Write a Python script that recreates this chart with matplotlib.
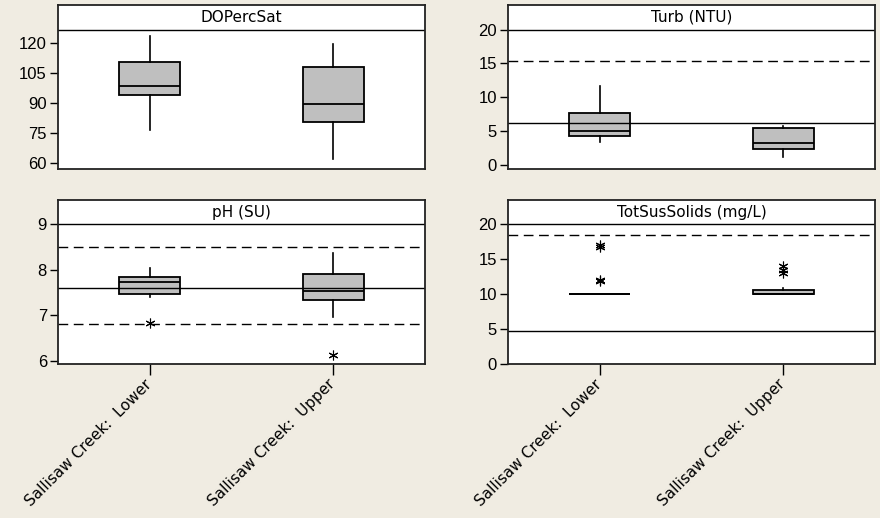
import matplotlib
matplotlib.use('Agg')
import matplotlib.pyplot as plt

# site names (x categories)
sites = ['Sallisaw Creek:  Lower', 'Sallisaw Creek:  Upper']

# panel titles
titles = ['DOPercSat', 'Turb (NTU)', 'pH (SU)', 'TotSusSolids (mg/L)']

# box stats per panel: [whislo, q1, med, q3, whishi] for Lower, Upper
do_stats = [[76.4, 93.8, 98.6, 110.3, 123.5], [61.7, 80.6, 89.6, 108.0, 119.3]]
turb_stats = [[3.45, 4.3, 5.03, 7.64, 11.6], [1.15, 2.37, 3.3, 5.5, 5.7]]
ph_stats = [[7.40, 7.47, 7.72, 7.84, 8.03], [6.97, 7.33, 7.53, 7.91, 8.36]]
tss_stats = [[10.0, 10.0, 10.0, 10.0, 10.0], [10.0, 10.0, 10.0, 10.6, 10.8]]

# outliers
do_fliers = [[], []]
turb_fliers = [[], []]
ph_fliers = [[6.82], [6.12]]
tss_fliers = [[17.0, 16.8, 12.0, 11.9], [14.0, 13.5, 13.0]]

# reference lines (solid / dashed)
do_solid, do_dashed = [], []
turb_solid, turb_dashed = [6.25], [15.4]
ph_solid, ph_dashed = [7.6], [8.5, 6.8]
tss_solid, tss_dashed = [4.65], [18.5]

ticks = [[60, 75, 90, 105, 120], [0, 5, 10, 15, 20], [6, 7, 8, 9], [0, 5, 10, 15, 20]]

stats_all = [do_stats, turb_stats, ph_stats, tss_stats]
fliers_all = [do_fliers, turb_fliers, ph_fliers, tss_fliers]
solid_all = [do_solid, turb_solid, ph_solid, tss_solid]
dashed_all = [do_dashed, turb_dashed, ph_dashed, tss_dashed]

# layout: ylim and where the title strip starts
ylims = [(56.8, 139.0), (-0.6, 23.65), (5.93, 9.53), (-0.05, 23.5)]
strips = [126.5, 20, 9, 20]

W, H = 880, 518
boxes_px = [(58, 5), (508, 5), (58, 200), (508, 200)]
aw, ah = 367, 164

bg = '#F0ECE2'
fig = plt.figure(figsize=(W / 100, H / 100), dpi=100, facecolor=bg)

for k in range(4):
	x0, y0 = boxes_px[k]
	ax = fig.add_axes([x0 / W, (H - y0 - ah) / H, aw / W, ah / H])
	ax.set_facecolor('white')

	bstats = []
	for i in range(2):
		s = stats_all[k][i]
		bstats.append({'whislo': s[0], 'q1': s[1], 'med': s[2], 'q3': s[3], 'whishi': s[4],
			'fliers': fliers_all[k][i]})

	ax.bxp(bstats, positions=[1, 2], widths=0.33, patch_artist=True, showcaps=False,
		boxprops=dict(facecolor='#BFBFBF', edgecolor='black', linewidth=1.3),
		medianprops=dict(color='black', linewidth=1.3),
		whiskerprops=dict(color='black', linewidth=1.2),
		flierprops=dict(marker=(6, 2, 0), markersize=7, markeredgecolor='black',
			markeredgewidth=0.8, linestyle='none'))

	for v in solid_all[k]:
		ax.axhline(v, color='black', linewidth=1.0)
	for v in dashed_all[k]:
		ax.axhline(v, color='black', linewidth=1.0, linestyle=(0, (7, 4)))

	ymin, ymax = ylims[k]
	ax.set_ylim(ymin, ymax)
	ax.set_xlim(0.5, 2.5)

	# title strip
	ax.axhline(strips[k], color='black', linewidth=1.0)
	f = (strips[k] - ymin) / (ymax - ymin)
	ax.text(0.5, (1 + f) / 2, titles[k], transform=ax.transAxes, ha='center', va='center',
		fontsize=11, family='DejaVu Sans', color='black')

	ax.set_yticks(ticks[k])
	ax.set_yticklabels([str(t) for t in ticks[k]], fontsize=12, family='Liberation Sans')
	ax.tick_params(axis='y', length=6, width=1.0, direction='out', pad=2)

	if k >= 2:
		ax.set_xticks([1, 2])
		ax.set_xticklabels(sites, rotation=45, ha='right', va='center', rotation_mode='anchor',
			fontsize=11, family='DejaVu Sans')
		ax.tick_params(axis='x', length=8, width=1.0, direction='out', pad=5)
	else:
		ax.set_xticks([])

	for sp in ax.spines.values():
		sp.set_linewidth(1.3)
		sp.set_color('#222222')

fig.savefig('out.png', dpi=100, facecolor=bg)
